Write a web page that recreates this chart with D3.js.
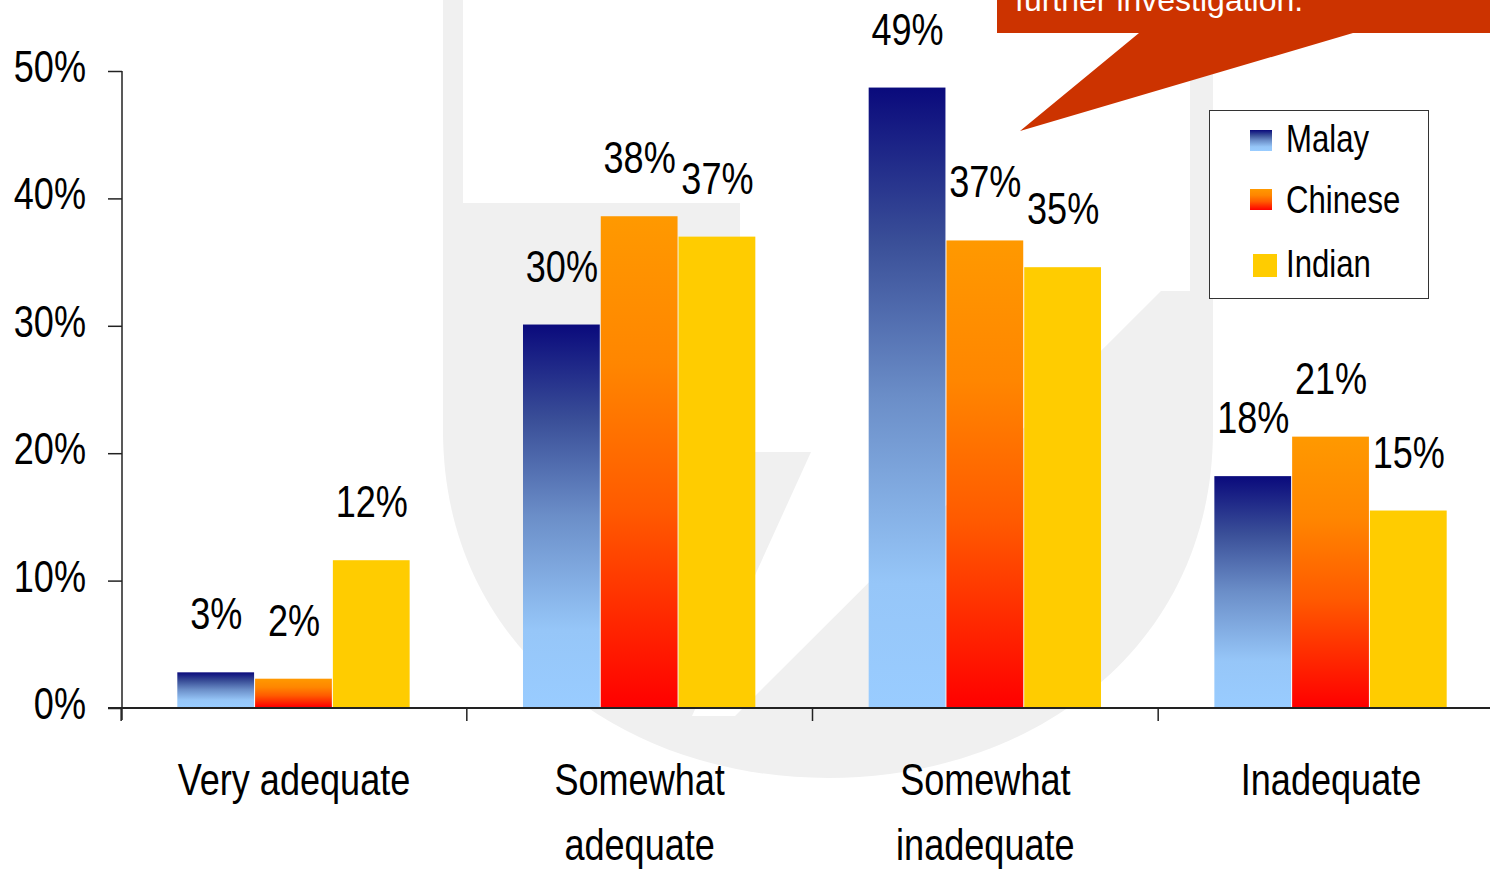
<!DOCTYPE html>
<html>
<head>
<meta charset="utf-8">
<script src="https://cdnjs.cloudflare.com/ajax/libs/d3/7.8.5/d3.min.js"></script>
<style>
  body { margin: 0; background: #fff; }
  svg { display: block; }
  text { font-family: "Liberation Sans", Arial, sans-serif; }
</style>
</head>
<body>
<div id="chart"></div>
<script>
var categories = [["Very adequate"], ["Somewhat", "adequate"], ["Somewhat", "inadequate"], ["Inadequate"]];
var series = ["Malay", "Chinese", "Indian"];
var malay = [0.028, 0.301, 0.487, 0.182];
var chinese = [0.023, 0.386, 0.367, 0.213];
var indian = [0.116, 0.370, 0.346, 0.155];
var malayLabels = ["3%", "30%", "49%", "18%"];
var chineseLabels = ["2%", "38%", "37%", "21%"];
var indianLabels = ["12%", "37%", "35%", "15%"];
var yTicks = [0, 0.1, 0.2, 0.3, 0.4, 0.5];

var width = 1490;
var height = 869;
var squeeze = 0.82; // narrow face look

var svg = d3.select("#chart")
  .append("svg")
  .attr("width", width)
  .attr("height", height);

var defs = svg.append("defs");

var blue = defs.append("linearGradient")
  .attr("id", "grad-malay")
  .attr("x1", 0).attr("y1", 0).attr("x2", 0).attr("y2", 1);
[[0, "#0a0a7c"], [0.25, "#3a4f98"], [0.5, "#6b8ec8"], [0.8, "#96c6f8"], [1, "#99ccff"]].forEach(function(s) {
  blue.append("stop").attr("offset", s[0]).attr("stop-color", s[1]);
});

var orange = defs.append("linearGradient")
  .attr("id", "grad-chinese")
  .attr("x1", 0).attr("y1", 0).attr("x2", 0).attr("y2", 1);
[[0, "#ff9900"], [0.3, "#ff8600"], [0.6, "#ff5a00"], [1, "#ff0000"]].forEach(function(s) {
  orange.append("stop").attr("offset", s[0]).attr("stop-color", s[1]);
});

var fills = {
  Malay: "url(#grad-malay)",
  Chinese: "url(#grad-chinese)",
  Indian: "#ffcc00"
};

function narrowAt(x, y) {
  return "translate(" + x + "," + y + ") scale(" + squeeze + ",1)";
}

// faint watermark behind the chart
var mark = svg.append("g");
mark.append("path")
  .attr("d", "M443,0 L1213,0 L1213,430 C1213,650 1030,778 828,778 C626,778 443,650 443,430 Z")
  .attr("fill", "#f0f0f0");
mark.append("rect")
  .attr("x", 463).attr("y", 0).attr("width", 727).attr("height", 203)
  .attr("fill", "#fff");
mark.append("path")
  .attr("d", "M740,203 L1190,203 L1190,291 L1161,291 L735,716 L692,716 L756,573 L811,452 L740,452 Z")
  .attr("fill", "#fff");

var x0 = d3.scaleBand()
  .domain(d3.range(categories.length))
  .range([122, 1503])
  .paddingInner(0.325)
  .paddingOuter(0.16);

var x1 = d3.scaleBand()
  .domain(series)
  .range([0, x0.bandwidth()]);

var y = d3.scaleLinear()
  .domain([0, 0.5])
  .range([708, 71]);

var rows = categories.map(function(c, i) {
  return [
    { cat: i, name: "Malay", value: malay[i], label: malayLabels[i] },
    { cat: i, name: "Chinese", value: chinese[i], label: chineseLabels[i] },
    { cat: i, name: "Indian", value: indian[i], label: indianLabels[i] }
  ];
});

var groups = svg.append("g")
  .selectAll("g.group")
  .data(rows)
  .enter()
  .append("g")
  .attr("class", "group")
  .attr("transform", function(d, i) { return "translate(" + x0(i) + ",0)"; });

groups.selectAll("rect")
  .data(function(d) { return d; })
  .enter()
  .append("rect")
  .attr("x", function(d) { return x1(d.name); })
  .attr("y", function(d) { return y(d.value); })
  .attr("width", function(d) { return x1.bandwidth() - 1; })
  .attr("height", function(d) { return y(0) - y(d.value) - 1; })
  .attr("fill", function(d) { return fills[d.name]; });

groups.selectAll("text")
  .data(function(d) { return d; })
  .enter()
  .append("text")
  .attr("transform", function(d) {
    return narrowAt(x1(d.name) + x1.bandwidth() / 2, y(d.value) - 43);
  })
  .attr("text-anchor", "middle")
  .style("font-size", "44px")
  .attr("fill", "#000")
  .text(function(d) { return d.label; });

// Add axes
var yAxis = d3.axisLeft(y)
  .tickValues(yTicks)
  .tickSize(14)
  .tickFormat(d3.format(".0%"));

var gy = svg.append("g")
  .attr("transform", "translate(122,0)")
  .call(yAxis);
gy.select(".domain").attr("stroke", "#222").attr("stroke-width", 1.5).attr("d", "M0," + y(0.5) + "V720");
gy.selectAll(".tick line").attr("stroke", "#222").attr("stroke-width", 1.5);
gy.selectAll(".tick text")
  .attr("x", 0)
  .attr("dy", "0.24em")
  .attr("transform", narrowAt(-36, 0))
  .style("font-size", "44px")
  .attr("font-family", null)
  .attr("fill", "#000");

var step = x0.step();
var bounds = d3.range(categories.length).map(function(i) {
  return x0(i) - step * x0.paddingInner() / 2;
});

var gx = svg.append("g");
gx.append("line")
  .attr("x1", 108).attr("x2", width)
  .attr("y1", y(0)).attr("y2", y(0))
  .attr("stroke", "#222").attr("stroke-width", 2);
gx.selectAll("line.tick")
  .data(bounds)
  .enter()
  .append("line")
  .attr("class", "tick")
  .attr("x1", function(d) { return d; }).attr("x2", function(d) { return d; })
  .attr("y1", y(0)).attr("y2", 721)
  .attr("stroke", "#222").attr("stroke-width", 1.5);

gx.selectAll("text.cat")
  .data(categories)
  .enter()
  .append("text")
  .attr("class", "cat")
  .attr("text-anchor", "middle")
  .style("font-size", "44px")
  .attr("fill", "#000")
  .attr("transform", function(d, i) { return narrowAt(x0(i) + x0.bandwidth() / 2, 795); })
  .selectAll("tspan")
  .data(function(d) { return d; })
  .enter()
  .append("tspan")
  .attr("x", 0)
  .attr("y", function(d, j) { return j * 65; })
  .text(function(d) { return d; });

// callout
var callout = svg.append("g");
callout.append("path")
  .attr("d", "M997,-10 L1500,-10 L1500,33 L1353,33 L1020,131 L1139,33 L997,33 Z")
  .attr("fill", "#cc3300");
callout.append("text")
  .attr("x", 1015)
  .attr("y", 11)
  .style("font-size", "32px")
  .attr("fill", "#fff")
  .text("further investigation.");

// legend
var legend = svg.append("g");
legend.append("rect")
  .attr("x", 1209.5).attr("y", 110.5)
  .attr("width", 219).attr("height", 188)
  .attr("fill", "#fff")
  .attr("stroke", "#333")
  .attr("stroke-width", 1);

var legendRows = [
  { name: "Malay", sx: 1250, sy: 130, size: 22, ty: 152 },
  { name: "Chinese", sx: 1250, sy: 189, size: 22, ty: 213 },
  { name: "Indian", sx: 1253, sy: 254, size: 24, ty: 277 }
];
legend.selectAll("rect.sw")
  .data(legendRows)
  .enter()
  .append("rect")
  .attr("class", "sw")
  .attr("x", function(d) { return d.sx; })
  .attr("y", function(d) { return d.sy; })
  .attr("width", function(d) { return d.size; })
  .attr("height", function(d) { return d.size - 1; })
  .attr("fill", function(d) { return fills[d.name]; });
legend.selectAll("text")
  .data(legendRows)
  .enter()
  .append("text")
  .attr("transform", function(d) { return narrowAt(1286, d.ty); })
  .style("font-size", "38px")
  .attr("fill", "#000")
  .text(function(d) { return d.name; });
</script>
</body>
</html>
